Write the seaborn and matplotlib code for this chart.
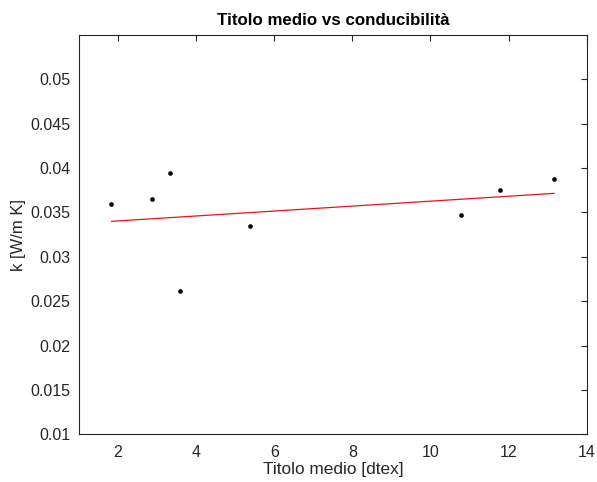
import numpy as np
import pandas as pd
import matplotlib
matplotlib.use("Agg")
import matplotlib.pyplot as plt
import seaborn as sns

# values
titolo = [1.83, 2.87, 3.34, 3.59, 5.39, 10.78, 11.79, 13.17]
conduc = [0.0360, 0.03647, 0.03947, 0.02618, 0.03344, 0.03472, 0.03756, 0.03876]

xticks = [2, 4, 6, 8, 10, 12, 14]
yticks = [0.01, 0.015, 0.02, 0.025, 0.03, 0.035, 0.04, 0.045, 0.05]

df = pd.DataFrame({"titolo": titolo, "k": conduc})

sns.set_style("white")
plt.rcParams['font.family'] = ['Liberation Sans', 'DejaVu Sans']

axcol = "#262626"
fig = plt.figure(figsize=(5.97, 4.82), dpi=100)
ax = fig.add_axes([0.1323, 0.099, 0.8504, 0.8284])

# linear fit (drawn by seaborn) + points
sns.regplot(data=df, x="titolo", y="k", ci=None, scatter=False, ax=ax,
            line_kws={"color": "#e8141b", "lw": 0.9})
sns.scatterplot(data=df, x="titolo", y="k", ax=ax, color="black", s=9,
                edgecolor="black", linewidth=0.3, zorder=3)

ax.set_xlim(1, 14)
ax.set_ylim(0.01, 0.055)
ax.set_xticks(xticks)
ax.set_yticks(yticks)
ax.set_xticklabels([str(t) for t in xticks])
ax.set_yticklabels([f"{t:g}" for t in yticks])

for s in ax.spines.values():
    s.set_visible(True)
    s.set_color(axcol)
    s.set_linewidth(0.8)
ax.tick_params(direction="in", top=True, right=True, length=4, width=0.8,
               colors=axcol, labelsize=11.5)
ax.tick_params(axis="x", pad=8)
ax.tick_params(axis="y", pad=6)

ax.set_title("Titolo medio vs conducibilità", fontsize=12.2, fontweight="bold",
             color="black", pad=7)
ax.set_xlabel("Titolo medio [dtex]", fontsize=12.4, color=axcol, labelpad=1)
ax.set_ylabel("k [W/m K]", fontsize=12, color=axcol, labelpad=3)

fig.savefig("out.png", dpi=100, facecolor="white")
